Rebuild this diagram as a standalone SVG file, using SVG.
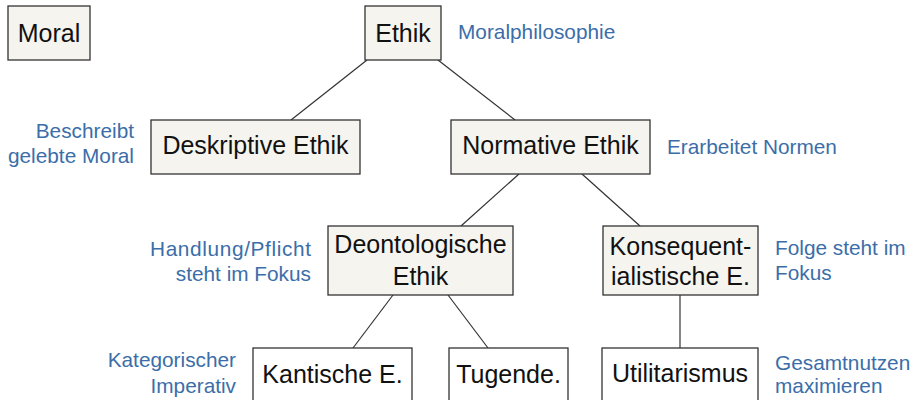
<svg xmlns="http://www.w3.org/2000/svg" width="911" height="400" viewBox="0 0 911 400">
<style>
.box{fill:#f5f4ef;stroke:#333;stroke-width:1.3}
.leaf{fill:#fff;stroke:#333;stroke-width:1.3}
.t{font-family:"Liberation Sans",Arial,sans-serif;font-size:25px;fill:#111;text-anchor:middle}
.n{font-family:"Liberation Sans",Arial,sans-serif;font-size:20.8px;fill:#3b6ea8}
.r{text-anchor:end}
.c line{stroke:#333;stroke-width:1.2}
</style>
<rect width="911" height="400" fill="#fff"/>
<g class="c" id="connectors">
<line x1="367" y1="60" x2="291" y2="120"/>
<line x1="438" y1="60" x2="515" y2="120"/>
<line x1="519" y1="174" x2="461" y2="226"/>
<line x1="582" y1="174" x2="640" y2="226"/>
<line x1="393" y1="295" x2="353" y2="348"/>
<line x1="448" y1="295" x2="488" y2="348"/>
<line x1="680" y1="295" x2="680" y2="348"/>
</g>
<g id="moral"><rect class="box" x="8" y="6" width="82" height="54"/><text class="t" x="49" y="42">Moral</text></g>
<g id="ethik"><rect class="box" x="365" y="6" width="76" height="54"/><text class="t" x="403" y="42">Ethik</text>
<text class="n" x="458" y="39">Moralphilosophie</text></g>
<g id="deskriptiv"><rect class="box" x="151" y="120" width="209" height="54"/><text class="t" x="255.5" y="154">Deskriptive Ethik</text>
<text class="n r" x="134" y="138">Beschreibt</text><text class="n r" x="134" y="163">gelebte Moral</text></g>
<g id="normativ"><rect class="box" x="451" y="120" width="199" height="54"/><text class="t" x="550.5" y="154">Normative Ethik</text>
<text class="n" x="667" y="154">Erarbeitet Normen</text></g>
<g id="deontologisch"><rect class="box" x="328" y="226" width="185" height="69"/><text class="t" x="420.5" y="253">Deontologische</text><text class="t" x="420.5" y="285">Ethik</text>
<text class="n r" x="311" y="256" textLength="161" lengthAdjust="spacing">Handlung/Pflicht</text><text class="n r" x="311" y="281">steht im Fokus</text></g>
<g id="konsequent"><rect class="box" x="603" y="226" width="155" height="69"/><text class="t" x="680.5" y="255">Konsequent-</text><text class="t" x="680.5" y="285">ialistische E.</text>
<text class="n" x="775" y="255">Folge steht im</text><text class="n" x="775" y="280">Fokus</text></g>
<g id="kantisch"><rect class="leaf" x="253" y="348" width="159" height="62"/><text class="t" x="332.5" y="383">Kantische E.</text>
<text class="n r" x="236" y="367">Kategorischer</text><text class="n r" x="236" y="393">Imperativ</text></g>
<g id="tugend"><rect class="leaf" x="449" y="348" width="119" height="62"/><text class="t" x="508.5" y="383">Tugende.</text></g>
<g id="utilitarismus"><rect class="leaf" x="602" y="348" width="156" height="62"/><text class="t" x="680" y="382">Utilitarismus</text>
<text class="n" x="775" y="370">Gesamtnutzen</text><text class="n" x="775" y="393">maximieren</text></g>
</svg>
